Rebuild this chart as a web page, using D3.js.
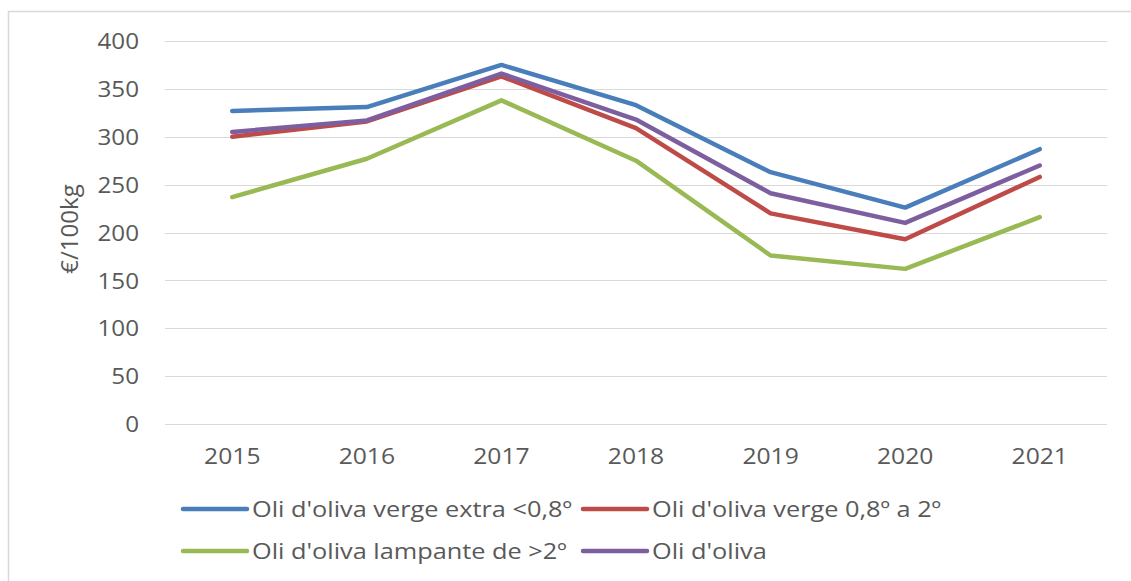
<!DOCTYPE html>
<html><head><meta charset="utf-8">
<script src="https://cdn.jsdelivr.net/npm/d3@7"></script>
<style>body{margin:0;background:#fff}svg{display:block}</style>
</head><body>
<svg id="c" width="1131" height="581"></svg>
<script>
const years = ["2015","2016","2017","2018","2019","2020","2021"];
const extraVirgin = [327, 331, 375, 333, 263, 226, 287];
const virgin = [300, 316, 363, 309, 220, 193, 258];
const lampante = [237, 277, 338, 275, 176, 162, 216];
const oliveOil = [305, 317, 366, 318, 241, 210, 270];
const seriesNames = ["Oli d'oliva verge extra <0,8º", "Oli d'oliva verge 0,8º a 2º", "Oli d'oliva lampante de >2º", "Oli d'oliva"];
const yTicks = [0, 50, 100, 150, 200, 250, 300, 350, 400];
const yLabel = "€/100kg";

const colors = ["#4A7EBB", "#BE4B48", "#98B954", "#7D5FA0"];
const series = [extraVirgin, virgin, lampante, oliveOil].map((v, i) => ({name: seriesNames[i], values: v, color: colors[i]}));

const svg = d3.select("#c");
const font = "'Open Sans', 'Liberation Sans', sans-serif";
const txt = "#595959";

function stretch(sel, k) {
  sel.each(function() {
    const w = this.getComputedTextLength();
    d3.select(this).attr("textLength", w * k).attr("lengthAdjust", "spacingAndGlyphs");
  });
}

// chart border (top & left visible)
svg.append("path").attr("d", "M8.5,581 L8.5,11.5 L1131,11.5").attr("fill", "none").attr("stroke", "#d9d9d9").attr("stroke-width", 1.5);

const x = d3.scaleBand().domain(years).range([165, 1107]);
const y = d3.scaleLinear().domain([0, 400]).range([424, 41]);

// gridlines
svg.append("g").selectAll("line").data(yTicks).join("line")
  .attr("x1", 165).attr("x2", 1107)
  .attr("y1", d => Math.round(y(d)) + 0.5).attr("y2", d => Math.round(y(d)) + 0.5)
  .attr("stroke", "#d9d9d9").attr("stroke-width", 1.2);

// y axis labels
const yAxis = d3.axisLeft(y).tickValues(yTicks).tickSize(0).tickPadding(0);
const gy = svg.append("g").attr("transform", "translate(139,0)").call(yAxis);
gy.select(".domain").remove();
gy.selectAll("text").attr("font-family", font).attr("font-size", 22).attr("fill", txt).attr("dy", "0.35em").call(stretch, 1.1);

// x axis labels
const xAxis = d3.axisBottom(x).tickSize(0).tickPadding(0);
const gx = svg.append("g").attr("transform", "translate(0,456)").call(xAxis);
gx.select(".domain").remove();
gx.selectAll("text").attr("font-family", font).attr("font-size", 22).attr("fill", txt).attr("dy", "0.35em").call(stretch, 1.12);

// y label
svg.append("text").attr("transform", "translate(70,229) rotate(-90)")
  .attr("text-anchor", "middle").attr("dy", "0.35em")
  .attr("font-family", font).attr("font-size", 24).attr("fill", txt).text(yLabel);

// lines
const line = d3.line().x((d, i) => x(years[i]) + x.bandwidth() / 2).y(d => y(d));
svg.append("g").selectAll("path").data(series).join("path")
  .attr("d", d => line(d.values)).attr("fill", "none")
  .attr("stroke", d => d.color).attr("stroke-width", 4.5)
  .attr("stroke-linejoin", "round").attr("stroke-linecap", "round");

// legend
const legendPos = [[183, 509], [583, 509], [183, 551], [583, 551]];
const lg = svg.append("g").selectAll("g").data(series).join("g")
  .attr("transform", (d, i) => `translate(${legendPos[i][0]},${legendPos[i][1]})`);
lg.append("line").attr("x1", 0).attr("x2", 64).attr("y1", 0).attr("y2", 0)
  .attr("stroke", d => d.color).attr("stroke-width", 4.5).attr("stroke-linecap", "round");
lg.append("text").attr("x", 69).attr("dy", "0.35em")
  .attr("font-family", font).attr("font-size", 22).attr("fill", txt).text(d => d.name).call(stretch, 1.15);
</script>
</body></html>
